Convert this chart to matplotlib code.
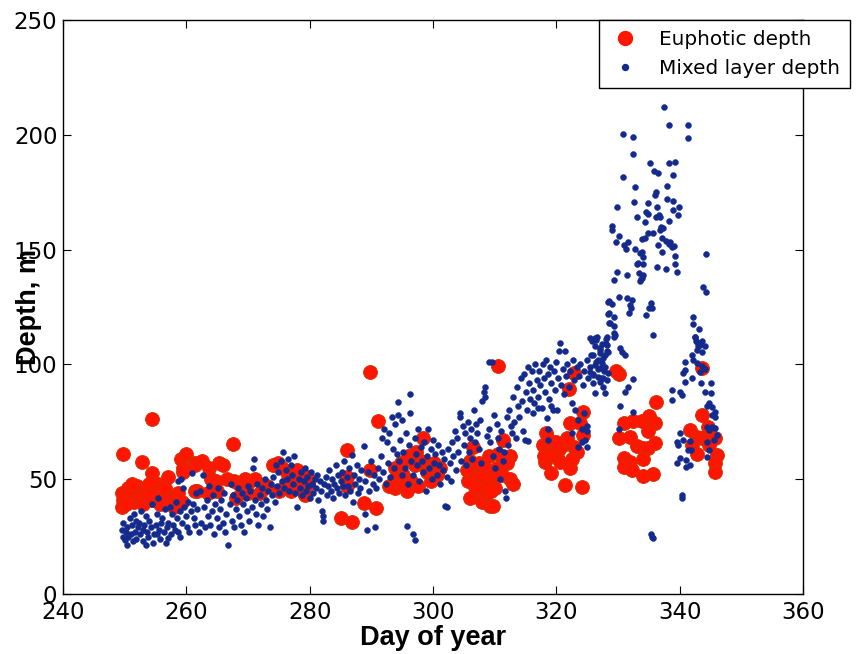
import matplotlib
matplotlib.use("Agg")
import matplotlib.pyplot as plt
from matplotlib.lines import Line2D

# ---------------- data: (day of year, depth in m) ----------------
eu_early = [(249.8, 61), (252.8, 57.5), (254.4, 76.2), (254.4, 52.8), (259.2, 59), (260.0, 61),
            (261.4, 57), (259.5, 55), (259.5, 53), (255.4, 48), (257.0, 51), (249.6, 44),
            (249.8, 41), (249.6, 38), (250.5, 46), (251.0, 43), (251.5, 40), (252.0, 47),
            (252.5, 42), (253.0, 39), (253.5, 45), (254.0, 48), (254.5, 41), (255.0, 44),
            (255.8, 39), (256.5, 46), (257.5, 42), (258.0, 38), (258.7, 44), (259.3, 40),
            (261.4, 45), (250.2, 39), (251.2, 48), (253.8, 43), (256.0, 41)]
eu_mid = [(267.5, 65.2), (261.4, 56), (262.6, 58), (263.7, 55), (265.3, 57), (266.0, 56),
          (264.0, 50), (264.8, 49), (266.6, 50), (267.8, 49), (268.5, 48), (269.5, 50),
          (270.3, 49), (271.1, 50), (261.7, 45), (263.5, 44), (265.0, 45), (272.0, 44),
          (273.0, 47), (274.0, 56), (274.8, 57), (275.5, 55), (276.2, 48), (277.0, 45),
          (275.0, 45), (276.5, 52), (277.5, 50), (278.0, 54), (278.5, 47), (279.0, 44),
          (279.5, 51), (270.0, 44), (268.0, 42), (279.3, 43), (279.7, 48)]
eu_autumn = [(286.0, 62.7), (285.0, 33.2), (286.8, 31.5), (288.8, 39.5), (290.8, 37.3),
             (289.8, 96.5), (291.0, 75.3), (289.8, 54), (286.0, 51), (286.0, 47), (293.8, 55),
             (293.8, 50), (293.8, 46), (294.5, 48), (295.2, 52), (295.8, 45), (296.5, 49),
             (297.0, 56), (297.5, 47), (298.4, 68), (298.0, 58), (299.0, 53), (299.6, 49),
             (300.2, 57), (300.7, 52), (296.0, 60), (297.3, 62), (294.8, 57), (301.2, 55),
             (292.8, 47)]
eu_nov = [(306.5, 64), (310.5, 99.3), (306.0, 58), (306.3, 52), (306.8, 55), (307.0, 43),
          (307.2, 50), (307.5, 57), (307.7, 45), (308.0, 40), (308.2, 53), (308.5, 48),
          (308.8, 44), (309.0, 60), (309.2, 38.5), (309.5, 51), (310.0, 46), (311.4, 67),
          (310.6, 61), (312.5, 60), (312.0, 57), (310.4, 55), (311.2, 52), (308.4, 55),
          (307.8, 51), (308.6, 46.5), (309.7, 38.5), (309.4, 45), (306.8, 46.5), (306.0, 42),
          (312.5, 50), (313.0, 48), (305.7, 49), (305.5, 54)]
eu_late = [(322.8, 96.1), (322.0, 89.5), (324.4, 79.4), (322.2, 74.3), (323.8, 74.3),
           (324.4, 69.2), (318.4, 70), (317.9, 64.9), (319.2, 63.4), (321.1, 64.9), (322.8, 64.1),
           (323.3, 62), (320.1, 59.8), (318.2, 57.6), (320.6, 57.6), (322.2, 54.7), (319.2, 52.5),
           (321.4, 47.4), (324.1, 46.7), (318.0, 60), (318.8, 67), (319.5, 61), (320.5, 63),
           (321.7, 68), (322.5, 59), (319.9, 66),
           (330.1, 95.7), (329.6, 97), (336.2, 83.8), (330.9, 74.6), (332.5, 75.5), (333.9, 75.2),
           (335.1, 77.5), (336.0, 74.6), (330.2, 67.8), (331.9, 68.5), (334.9, 71.2), (333.0, 64.4),
           (334.1, 63.5), (334.9, 63.5), (336.0, 65.6), (330.9, 59.1), (332.0, 57.6), (334.1, 58.8),
           (330.9, 55.2), (332.2, 54.0), (334.1, 51.4), (335.7, 52.3),
           (343.7, 98.3), (343.7, 78), (341.7, 71.4), (342.8, 68.5), (343.6, 67.8), (344.7, 68.5),
           (345.7, 67.8), (342.0, 64.9), (342.8, 61), (344.6, 72.9), (344.8, 65), (346.0, 60.6),
           (345.7, 56.9), (345.7, 53.3)]

mld_sep = [(249.5, 28), (249.7, 25), (249.8, 31), (250.0, 23.5), (250.2, 27), (250.4, 29),
           (250.6, 25), (250.8, 33), (251.0, 26), (251.2, 30), (251.3, 23), (251.5, 35),
           (251.7, 27), (251.9, 24), (252.1, 29), (252.3, 31), (252.5, 26), (252.7, 36),
           (252.9, 28), (253.0, 23), (253.2, 30), (253.4, 34), (253.6, 27), (253.8, 25),
           (254.0, 32), (254.2, 29), (254.4, 39), (254.6, 22), (254.8, 26), (255.0, 30),
           (255.2, 35), (255.4, 42), (255.5, 28), (255.7, 24), (255.9, 31), (256.1, 33),
           (256.3, 27), (256.5, 37), (256.7, 22), (256.9, 29), (257.1, 31), (257.3, 38),
           (257.5, 26), (257.7, 35), (257.9, 30), (258.1, 28), (258.3, 40), (258.5, 33),
           (258.7, 49), (258.9, 36), (259.0, 25), (259.2, 50), (259.3, 31), (259.5, 46),
           (259.7, 38), (259.9, 34), (260.1, 29), (260.3, 40), (260.5, 27), (260.7, 36),
           (260.9, 52.7), (261.0, 39), (261.2, 33), (261.4, 30), (261.6, 44), (261.8, 37),
           (250.3, 21.5), (251.8, 32), (253.5, 21.5), (255.3, 26), (257.0, 24.5), (258.6, 27)]
mld_oct = [(262.0, 27), (262.2, 45), (262.4, 31), (262.7, 52), (262.9, 38), (263.1, 29),
           (263.3, 41), (263.5, 34), (263.7, 47), (263.9, 30), (264.1, 36), (264.3, 43),
           (264.5, 26), (264.7, 39), (264.9, 33), (265.1, 46), (265.3, 29), (265.5, 37),
           (265.7, 41), (265.9, 31), (266.1, 44), (266.3, 27), (266.5, 35), (266.8, 21.3),
           (267.0, 39), (267.2, 48), (267.4, 32), (267.6, 43), (267.8, 29), (268.0, 37),
           (268.2, 41), (268.4, 46), (268.6, 34), (268.8, 30), (269.0, 44), (269.2, 39),
           (269.4, 27), (269.6, 42), (269.8, 36), (270.0, 47), (270.2, 32), (270.4, 45),
           (270.6, 38), (270.8, 55), (271.0, 59), (271.1, 41), (271.3, 35), (271.5, 48),
           (271.7, 30), (271.9, 43), (272.1, 39), (272.3, 46), (272.5, 34), (272.7, 50),
           (272.9, 41), (273.1, 37), (273.3, 45), (273.5, 29), (273.7, 48), (273.9, 43),
           (274.1, 51), (274.3, 40), (274.5, 56), (274.7, 47), (274.9, 53), (275.1, 44),
           (275.3, 58), (275.5, 49), (275.7, 62), (275.9, 46), (276.1, 54), (276.3, 50),
           (276.5, 59), (276.7, 45), (276.9, 56), (277.1, 52), (277.3, 48), (277.5, 60),
           (277.7, 44)]
mld_mid = [(278.0, 38), (278.2, 50), (278.4, 46), (278.6, 53), (278.8, 43), (279.0, 49),
           (279.2, 55), (279.4, 45), (279.6, 51), (279.8, 47), (280.0, 42), (280.2, 53),
           (280.4, 48), (280.6, 44), (280.8, 50), (281.0, 46), (281.2, 52), (281.4, 41),
           (281.6, 49), (281.8, 45), (282.0, 36), (282.1, 32), (282.2, 34), (282.4, 48),
           (282.6, 51), (282.8, 43), (283.0, 47), (283.2, 54), (283.4, 45), (283.6, 50),
           (283.8, 42), (284.0, 48), (284.2, 56), (284.4, 46), (284.6, 52), (284.8, 44),
           (285.0, 49), (285.2, 53), (285.4, 47), (285.6, 58), (285.8, 43), (286.0, 51),
           (286.2, 47), (286.4, 55), (286.6, 45), (286.9, 60.5), (287.0, 40), (287.2, 52),
           (287.4, 48), (287.6, 56), (287.8, 44), (288.0, 50), (288.2, 46), (288.4, 54),
           (288.8, 64.5), (288.9, 35), (289.0, 49), (289.3, 28), (289.5, 53), (289.7, 45),
           (290.0, 58), (290.2, 48), (290.4, 52), (290.6, 29), (290.8, 46), (291.0, 55),
           (291.2, 50), (291.5, 60), (291.7, 68), (291.9, 53), (292.1, 72), (292.3, 48),
           (292.5, 66), (292.7, 57), (292.9, 70), (293.1, 51), (293.3, 77), (293.5, 63),
           (293.7, 55), (293.9, 74), (294.1, 61), (294.3, 83.7), (294.3, 78), (294.5, 58),
           (294.7, 67), (294.9, 52)]
mld_nov = [(295.0, 76), (295.2, 62), (295.4, 55), (295.6, 70), (295.8, 29.6), (295.9, 48),
           (296.1, 65), (296.3, 87), (296.3, 79), (296.5, 58), (296.7, 26), (296.8, 52),
           (297.0, 23.5), (297.0, 68), (297.2, 61), (297.4, 56), (297.6, 72), (297.8, 49),
           (298.0, 64), (298.2, 58), (298.4, 53), (298.6, 66), (298.8, 45), (299.0, 60),
           (299.2, 72), (299.4, 55), (299.6, 63), (299.8, 50), (300.0, 67), (300.2, 57),
           (300.4, 61), (300.6, 52), (300.8, 65), (301.0, 56), (301.2, 48), (301.4, 62),
           (301.6, 54), (301.8, 59), (302.0, 38.5), (302.2, 38), (302.3, 51), (302.5, 63),
           (302.7, 57), (302.9, 49), (303.1, 66), (303.3, 60), (303.5, 71), (303.7, 54),
           (303.9, 68), (304.1, 62), (304.4, 77), (304.4, 79), (304.6, 58), (304.8, 73),
           (305.0, 65), (305.2, 70), (305.4, 56), (305.6, 75), (305.8, 62), (306.0, 68),
           (306.2, 72), (306.4, 59), (306.6, 80), (306.8, 66), (307.0, 74), (307.2, 70),
           (307.4, 63), (307.6, 76), (307.8, 57), (308.0, 84), (308.2, 88), (308.4, 90),
           (308.5, 86), (308.7, 69), (309.0, 101), (309.0, 72), (309.2, 66), (309.5, 101),
           (309.7, 60), (309.9, 78), (310.1, 55), (310.3, 74), (310.5, 68), (310.7, 63),
           (310.9, 50), (311.1, 71), (311.3, 58), (311.5, 62), (311.6, 45), (311.8, 42),
           (312.0, 77), (312.2, 65), (312.4, 80), (312.6, 73), (312.8, 70)]
mld_dec = [(313.0, 86), (313.2, 75), (313.4, 68), (313.6, 90), (313.8, 82), (314.0, 77),
           (314.2, 94), (314.4, 84), (314.6, 71), (314.8, 96), (315.0, 88), (315.2, 80),
           (315.4, 99), (315.6, 92), (315.8, 85), (316.0, 97), (316.2, 89), (316.4, 83),
           (316.6, 100), (316.8, 93), (317.0, 86), (317.2, 97), (317.4, 91), (317.6, 81),
           (317.8, 100), (318.0, 94), (318.2, 88), (318.4, 102), (318.6, 96), (318.8, 85),
           (319.0, 99), (319.2, 92), (319.4, 80), (319.6, 97), (319.8, 89), (320.0, 101),
           (320.2, 94), (320.4, 106), (320.6, 109.4), (320.8, 91), (321.0, 98), (321.2, 87),
           (321.4, 106), (321.6, 95), (321.8, 100), (322.0, 90), (322.2, 97), (322.5, 83),
           (322.7, 102), (322.9, 93), (323.1, 80), (323.3, 99), (323.5, 76), (323.7, 95),
           (323.9, 100), (324.1, 72), (324.3, 91), (324.5, 97), (324.7, 67), (324.9, 102),
           (325.0, 64), (325.2, 94), (325.4, 99), (325.6, 104), (325.8, 110), (326.0, 96),
           (326.2, 108), (326.4, 101), (326.6, 112), (326.8, 98), (327.0, 105), (327.2, 94),
           (327.4, 109), (327.6, 103), (327.8, 97), (328.0, 111), (328.2, 106), (328.4, 122),
           (328.4, 127), (328.5, 118),
           (314.9, 67), (315.4, 66.6), (318.5, 76.6), (318.7, 72), (318.6, 67), (316.2, 79),
           (317.0, 81), (319.2, 82), (320.1, 80), (322.6, 70), (323.5, 64), (324.2, 66),
           (324.5, 79), (324.9, 71), (324.9, 73)]
mld_winter = [(337.5, 212.2), (338.3, 204.3), (341.3, 204.3), (341.3, 198.5), (330.8, 200.2),
              (332.4, 198.9), (332.4, 191.6), (335.2, 187.9), (338.2, 187.6), (339.2, 188.3),
              (335.9, 184.2), (336.5, 183.2), (338.9, 182.5), (330.8, 181.5), (332.8, 177.1),
              (337.9, 177.7), (336.0, 173.8), (336.2, 175.2), (332.6, 170.9), (334.8, 170.4),
              (337.9, 171.9), (338.9, 171.3), (339.9, 168.7), (338.9, 167.2), (339.7, 165.1),
              (329.8, 168.7), (334.6, 166.5), (334.8, 165.5), (336.3, 168.4), (336.6, 165.1),
              (336.8, 164.3), (336.2, 164.3), (333.0, 164.3), (334.4, 161.9), (338.3, 162.3),
              (329.0, 160.3), (329.0, 158.5), (337.0, 159.9), (337.3, 159.5), (336.8, 158.5),
              (330.2, 156.1), (334.9, 157.4), (335.7, 157.1), (333.9, 154.5), (334.4, 154.9),
              (337.1, 154.9), (337.8, 153.9), (338.4, 153.4), (339.0, 151.7), (338.2, 152.4),
              (336.5, 152.0), (329.6, 153.2), (331.0, 152.0), (331.3, 150.1), (331.6, 153.5),
              (332.8, 150.1), (333.5, 148.4), (333.9, 149.1), (334.1, 146.9), (333.0, 143.6),
              (333.2, 144.0), (334.1, 143.7), (337.1, 148.8), (338.7, 151.3), (339.3, 147.4),
              (337.8, 141.5), (339.3, 143.7), (339.5, 140.4), (336.3, 142.6), (344.2, 147.9),
              (329.8, 140.4), (331.4, 138.9), (329.3, 136.8), (333.4, 139.9), (334.1, 138.9),
              (333.9, 137.5), (333.5, 136.3), (333.7, 137.2), (343.8, 133.6), (344.3, 131.4),
              (328.5, 127.8), (329.1, 126.3), (330.1, 129.2), (331.4, 128.8), (332.2, 128.0),
              (332.0, 125.9), (332.1, 124.4), (331.8, 122.5), (335.3, 126.6), (335.5, 124.4),
              (335.1, 124.4), (334.6, 121.4), (328.6, 122.5), (329.4, 120.8), (328.7, 117.9),
              (329.4, 116.7), (329.5, 112.8), (329.3, 111.8), (328.2, 111.8), (328.1, 108.7),
              (335.7, 112.8), (342.1, 120.8), (342.1, 117.6), (343.1, 115.3), (342.5, 111.8),
              (342.7, 110.0), (343.6, 110.3), (344.1, 108.0), (343.0, 108.0), (325.5, 111.4),
              (326.4, 110.6), (327.0, 107.0), (330.3, 107.0)]
mld_end = [(326.3, 111.4), (329.3, 113.5), (327.1, 106.3), (328.2, 108.5), (328.4, 105.6),
           (327.9, 104.1), (326.0, 104.1), (326.8, 101.9), (327.4, 100.5), (327.9, 99.0),
           (327.1, 98.3), (326.3, 99.8), (325.5, 96.9), (326.0, 95.4), (326.8, 94.7),
           (327.6, 94.0), (327.1, 92.5), (326.0, 91.8), (327.6, 90.3), (328.2, 93.2),
           (328.4, 96.1), (326.3, 87.4), (327.9, 87.4), (330.6, 105.6), (331.2, 104.1),
           (332.5, 93.5), (331.7, 90.3), (331.2, 88.1), (330.3, 81.9), (332.5, 79.4),
           (330.2, 71.7), (335.4, 26.2), (335.6, 24.2), (335.5, 25.0), (342.5, 112.1),
           (342.8, 109.9), (343.3, 108.5), (343.6, 105.6), (342.8, 106.3), (342.0, 104.1),
           (340.9, 101.2), (342.2, 101.9), (342.8, 100.5), (343.6, 99.3), (344.1, 97.9),
           (343.3, 96.9), (340.6, 96.1), (340.9, 97.6), (342.0, 93.9), (340.9, 92.5),
           (343.5, 91.8), (344.1, 88.1), (345.0, 92.1), (345.0, 87.4), (338.7, 88.9),
           (338.7, 84.5), (340.1, 88.1), (340.3, 86.7), (344.7, 83.4), (344.4, 81.9),
           (345.2, 81.6), (345.7, 79.4), (345.2, 78.0), (345.7, 77.3), (344.4, 72.9),
           (345.2, 72.9), (345.7, 72.2), (344.8, 71.4), (346.0, 69.3), (340.1, 70.3),
           (339.5, 66.4), (340.6, 67.1), (341.7, 66.8), (339.8, 64.9), (341.4, 62.7),
           (341.9, 62.7), (344.4, 66.4), (344.7, 62.7), (345.5, 67.1), (340.0, 59.1),
           (339.5, 56.9), (341.1, 58.4), (341.7, 56.2), (341.1, 55.2), (340.3, 43.1),
           (340.3, 41.7), (344.5, 59.8)]

x_ticks = [240, 260, 280, 300, 320, 340, 360]
y_ticks = [0, 50, 100, 150, 200, 250]

eu = eu_early + eu_mid + eu_autumn + eu_nov + eu_late
mld = mld_sep + mld_oct + mld_mid + mld_nov + mld_dec + mld_winter + mld_end
eu_day = [p[0] for p in eu]
eu_depth = [p[1] for p in eu]
mld_day = [p[0] for p in mld]
mld_depth = [p[1] for p in mld]

# ---------------- figure ----------------
W, H = 859, 654
fig = plt.figure(figsize=(W / 100, H / 100), dpi=100)
L, R, T, B = 63, 803, 20, 594
ax = fig.add_axes([L / W, 1 - B / H, (R - L) / W, (B - T) / H])

RED = '#ff1500'
BLUE = '#142a8c'
ax.plot(eu_day, eu_depth, linestyle='none', marker='o', markersize=10,
        markerfacecolor=RED, markeredgecolor='#d03000', markeredgewidth=0.6, zorder=2)
ax.plot(mld_day, mld_depth, linestyle='none', marker='o', markersize=4.3,
        markerfacecolor=BLUE, markeredgecolor=BLUE, markeredgewidth=0.3, zorder=3)

ax.set_xlim(240, 360)
ax.set_ylim(0, 250)
ax.set_xticks(x_ticks)
ax.set_yticks(y_ticks)

tick_font = ['DejaVu Sans']
ax.tick_params(direction='in', length=6, width=0.8, top=True, right=True,
               labelsize=16.5)
ax.tick_params(axis='x', pad=5)
ax.tick_params(axis='y', pad=4)
for lab in ax.get_xticklabels() + ax.get_yticklabels():
    lab.set_family(tick_font)
for sp in ax.spines.values():
    sp.set_linewidth(1.0)

ax.set_xlabel('Day of year', fontsize=19.5, fontweight='bold',
              family=['Liberation Sans', 'DejaVu Sans'], labelpad=1)
ax.set_ylabel('Depth, m', fontsize=19.5, fontweight='bold',
              family=['Liberation Sans', 'DejaVu Sans'])
ax.yaxis.set_label_coords(-0.028, 0.5)

handles = [Line2D([], [], linestyle='none', marker='o', markersize=10,
                  markerfacecolor=RED, markeredgecolor=RED),
           Line2D([], [], linestyle='none', marker='o', markersize=4.3,
                  markerfacecolor=BLUE, markeredgecolor=BLUE)]
leg = fig.legend(handles, ['Euphotic depth', 'Mixed layer depth'],
                 loc='upper right', bbox_to_anchor=(850 / W, 1 - 20 / H),
                 bbox_transform=fig.transFigure, fancybox=False, framealpha=1,
                 edgecolor='black', handlelength=1.6, handletextpad=0.9,
                 borderpad=0.5, labelspacing=0.5, borderaxespad=0,
                 prop={'family': ['DejaVu Sans'], 'size': 14.4})
leg.get_frame().set_linewidth(1.0)

fig.savefig('out.png', dpi=100)
